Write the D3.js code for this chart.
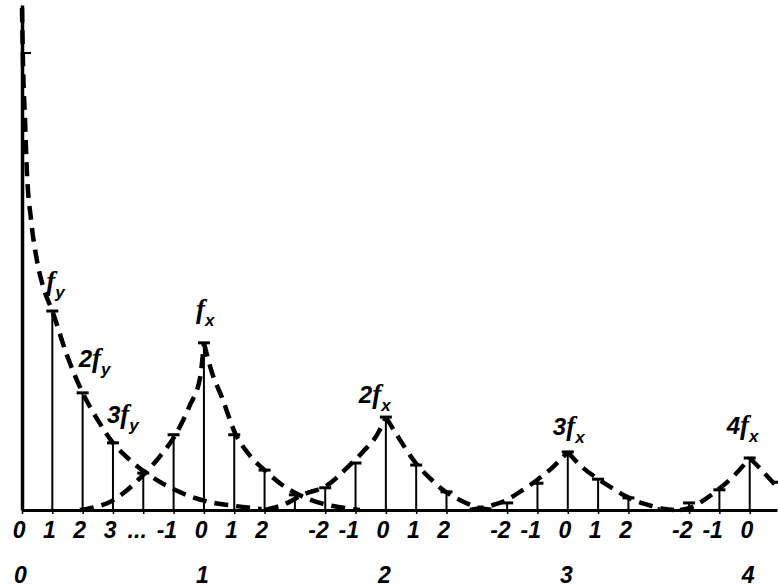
<!DOCTYPE html>
<html><head><meta charset="utf-8">
<script src="https://cdn.jsdelivr.net/npm/d3@7"></script>
<style>
html,body{margin:0;padding:0;background:#fff;}
svg{display:block;}
.ax text{font-family:"Liberation Sans","DejaVu Sans",sans-serif;font-style:italic;font-weight:bold;font-size:23px;fill:#000;}
</style></head>
<body><svg id="c" width="778" height="587"></svg>
<script>
// ---- data ----
const stemK   = [0,1,2,3,4,5,6,7,8,9,10,11,12,13,14,15,16,17,18,19,20,21,22,23,24,25];
const stemAmp = [90.5,39.4,23.2,13.3,7.3,14.9,33.1,14.9,7.9,3.0,4.4,9.3,18.4,8.9,3.6,0.6,1.4,5.3,11.5,6.1,2.4,0.6,1.4,4.0,10.3,5.5];

// envelopes: [k, amplitude]
const envFy  = [[0,99.4],[0.03,89.1],[0.1,77.2],[0.16,67.3],[0.3,57.4],[0.49,49.5],[0.73,43.6],[1,39.4],[1.48,30.7],[2,23.2],[2.5,17.8],[3,13.3],[3.56,9.9],[4.1,7.3],[5.04,4.0],[6.03,1.8],[7.02,0.8],[7.9,0.2]];
const envFx  = [[1.91,0],[2.41,0.6],[2.9,1.6],[3.4,3.6],[3.89,6.3],[4.45,9.9],[5.04,14.7],[5.54,20.8],[5.87,26.1],[6,33.1],[6.26,27.3],[6.6,22.2],[7.03,15.2],[7.5,10.9],[8,7.9],[8.57,5.0],[9.07,3.2],[9.82,1.4],[10.65,0.4],[11.14,0]];
const env2Fx = [[8.01,0],[8.6,1.0],[9.33,3.2],[10.05,4.8],[10.71,8.3],[11.24,11.5],[11.74,15.2],[12,18.4],[12.36,14.9],[12.96,9.5],[13.45,6.3],[13.88,4.0],[14.44,2.0],[15.1,0.4],[15.6,0]];
const env3Fx = [[14.77,0],[15.43,0.8],[15.99,2.0],[16.52,4.0],[16.98,5.9],[17.51,8.5],[18,11.5],[18.4,8.9],[18.96,6.3],[19.45,4.4],[19.95,2.6],[20.54,1.2],[21.2,0.2],[21.5,0]];
const env4Fx = [[21.7,0],[22.1,0.6],[22.5,2.0],[22.95,4.0],[23.5,6.9],[24,10.3],[24.33,8.3],[24.76,5.5],[25.3,2.4]];

const row1Ticks  = [0,1,2,3,4,5,6,7,8,10,11,12,13,14,16,17,18,19,20,22,23,24];
const row1Labels = ["0","1","2","3","...","-1","0","1","2","-2","-1","0","1","2","-2","-1","0","1","2","-2","-1","0"];
const row2Ticks  = [0,6,12,18,24];
const row2Labels = ["0","1","2","3","4"];

const peakK     = [1,2,3,6,12,18,24];
const peakCoef  = ["","2","3","","2","3","4"];
const peakSub   = ["y","y","y","x","x","x","x"];

// ---- layout ----
const labelNudge = [[-6,-21],[-4,-26],[-6,-20],[-8,-25],[-27,-14],[-15,-17],[-23,-24]];
const svg = d3.select("#c");
const x = d3.scaleLinear().domain([0,24.9]).range([22,777]);
const y = d3.scaleLinear().domain([0,100]).range([510,5]);

// envelopes
const line = d3.line().x(d=>x(d[0])).y(d=>y(d[1])).curve(d3.curveMonotoneX);
function drawEnv(pts){
  let mi = d3.maxIndex(pts, d=>d[1]);
  const parts = mi>0 && mi<pts.length-1 ? [pts.slice(0,mi+1), pts.slice(mi)] : [pts];
  parts.forEach(p=>{
    svg.append("path").attr("d", line(p)).attr("fill","none")
      .attr("stroke","#000").attr("stroke-width",4.5)
      .attr("stroke-dasharray","14 8");
  });
}
[envFy, envFx, env2Fx, env3Fx, env4Fx].forEach(drawEnv);

// stems
const stems = stemK.map((k,i)=>({k, a: stemAmp[i]}));
svg.append("g").selectAll("line").data(stems).join("line")
  .attr("x1", d=>x(d.k)).attr("x2", d=>x(d.k))
  .attr("y1", y(0)).attr("y2", d=>y(d.a))
  .attr("stroke","#000").attr("stroke-width",2);
svg.append("g").selectAll("line").data(stems.filter(d=>d.a>1)).join("line")
  .attr("x1", d=>d.k===0 ? x(d.k) : x(d.k)-6).attr("x2", d=>d.k===0 ? x(d.k)+9 : x(d.k)+6)
  .attr("y1", d=>y(d.a)).attr("y2", d=>y(d.a))
  .attr("stroke","#000").attr("stroke-width",d=>d.k===0?2:3);

// axes
const yAxis = svg.append("g").attr("class","ax").attr("transform",`translate(${x(0)},0)`)
  .call(d3.axisLeft(y).tickValues([]).tickSizeOuter(0));
yAxis.select(".domain").attr("stroke-width",3.5);

const ax1 = svg.append("g").attr("class","ax").attr("transform",`translate(0,${y(0)})`)
  .call(d3.axisBottom(x).tickValues(row1Ticks).tickFormat((d,i)=>row1Labels[i]).tickSize(4).tickSizeOuter(0));
ax1.select(".domain").attr("stroke-width",3);
ax1.selectAll(".tick line").attr("stroke-width",1.5);
ax1.selectAll(".tick text").attr("y",28).attr("dy",0).attr("text-anchor","end").attr("dx",3);

const ax2 = svg.append("g").attr("class","ax").attr("transform",`translate(0,${y(0)})`)
  .call(d3.axisBottom(x).tickValues(row2Ticks).tickFormat((d,i)=>row2Labels[i]).tickSize(0));
ax2.select(".domain").remove();
ax2.selectAll(".tick text").attr("y",73).attr("dy",0).attr("dx",-2);

// peak labels
peakK.forEach((k,i)=>{
  const a = stemAmp[stemK.indexOf(k)];
  const t = svg.append("text")
    .attr("x", x(k)+labelNudge[i][0]).attr("y", y(a)+labelNudge[i][1])
    .attr("font-style","italic").attr("fill","#000");
  if(peakCoef[i]) t.append("tspan").text(peakCoef[i])
    .attr("font-family","Liberation Sans, sans-serif").attr("font-weight","bold").attr("font-size",24);
  t.append("tspan").text("f").attr("font-family","Liberation Serif, serif").attr("font-weight","bold").attr("font-size",27);
  t.append("tspan").text(peakSub[i]).attr("dy",8)
    .attr("font-family","Liberation Sans, sans-serif").attr("font-weight","bold").attr("font-size",17);
});
</script></body></html>
